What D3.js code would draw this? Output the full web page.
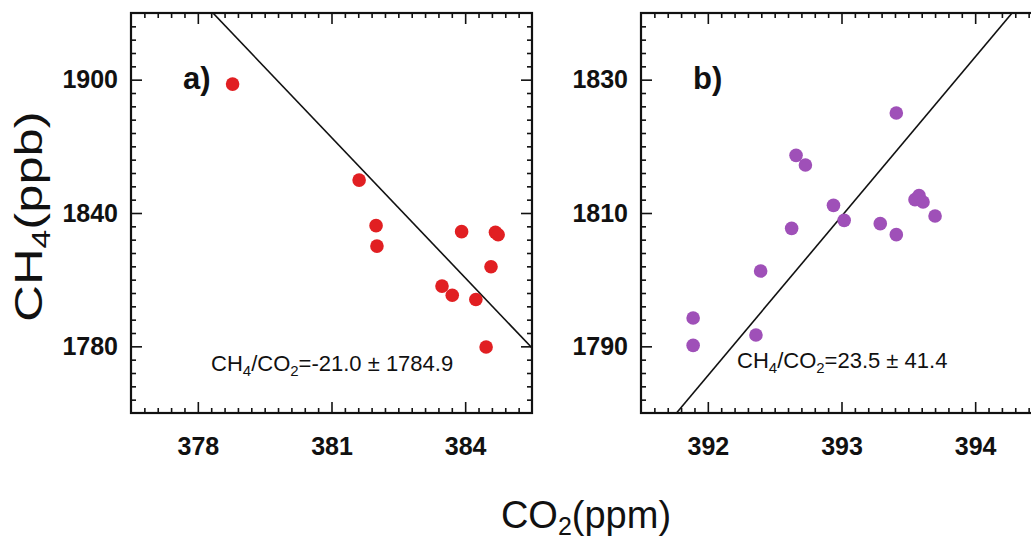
<!DOCTYPE html>
<html><head><meta charset="utf-8">
<script src="https://cdn.jsdelivr.net/npm/d3@7/dist/d3.min.js"></script>
<style>
body{margin:0;background:#fff}
svg{display:block}
text{font-family:"Liberation Sans",Arial,Helvetica,sans-serif;fill:#111}
</style>
</head><body>
<svg id="chart" width="1031" height="542"></svg>
<script>
// ---- data ----
const co2A = [378.78, 381.62, 382.00, 382.02, 383.92, 384.68, 384.74, 384.58, 383.48, 383.71, 384.24, 384.47];
const ch4A = [1898.0, 1854.8, 1834.3, 1825.1, 1831.6, 1831.3, 1830.2, 1815.8, 1807.1, 1803.0, 1801.1, 1779.7];
const co2B = [391.89, 391.89, 392.36, 392.395, 392.627, 392.66, 392.73, 392.94, 393.02, 393.29, 393.41, 393.41, 393.55, 393.58, 393.61, 393.70];
const ch4B = [1794.25, 1790.15, 1791.7, 1801.3, 1807.7, 1818.65, 1817.2, 1811.15, 1808.9, 1808.4, 1825.0, 1806.75, 1812.0, 1812.6, 1811.65, 1809.55];
const xTicksA = [378, 381, 384];
const yTicksA = [1780, 1840, 1900];
const xTicksB = [392, 393, 394];
const yTicksB = [1790, 1810, 1830];
const fitSlope = [-21.05, 23.9];
const fitIntercept = [9894.06, -7583.2];
const ratioText = ["-21.0", "23.5"];
const errText = ["1784.9", "41.4"];
const panelLabels = ["a)", "b)"];

const svg = d3.select("#chart");
svg.append("rect").attr("width",1031).attr("height",542).attr("fill","#fff");

const panels = [
  {id:"a", x:co2A, y:ch4A, xd:[376.5,385.5], yd:[1750,1930], xt:xTicksA, yt:yTicksA, xMinor:0.3, yMinor:6,
   left:131, color:"#e11f22", slope:fitSlope[0], icpt:fitIntercept[0], ratio:ratioText[0], err:errText[0],
   label:panelLabels[0], labelX:183, annX:211, annY:371},
  {id:"b", x:co2B, y:ch4B, xd:[391.5,394.5], yd:[1780,1840], xt:xTicksB, yt:yTicksB, xMinor:0.1, yMinor:2,
   left:641, color:"#9f50b8", slope:fitSlope[1], icpt:fitIntercept[1], ratio:ratioText[1], err:errText[1],
   label:panelLabels[1], labelX:693, annX:737, annY:368}
];
const plotTop = 13, W = 401, H = 400;

function minorVals(base, step, dom){
  const out=[];
  const kmin = Math.ceil((dom[0]-base)/step - 1e-9), kmax = Math.floor((dom[1]-base)/step + 1e-9);
  for(let k=kmin;k<=kmax;k++){ const v=+(base+k*step).toFixed(6); if(v>dom[0]+1e-9 && v<dom[1]-1e-9) out.push(v);} 
  return out;
}

panels.forEach(p=>{
  const g = svg.append("g").attr("transform",`translate(${p.left},${plotTop})`);
  const xs = d3.scaleLinear().domain(p.xd).range([0,W]);
  const ys = d3.scaleLinear().domain(p.yd).range([H,0]);

  const clipId = "clip-"+p.id;
  g.append("clipPath").attr("id",clipId).append("rect").attr("width",W).attr("height",H);

  // regression line
  const ext = [p.xd[0]-5, p.xd[1]+5].map(x=>[x, p.slope*x + p.icpt]);
  g.append("path").attr("clip-path",`url(#${clipId})`)
    .attr("d", d3.line().x(d=>xs(d[0])).y(d=>ys(d[1]))(ext))
    .attr("fill","none").attr("stroke","#111").attr("stroke-width",1.6);

  // points
  g.append("g").selectAll("circle").data(p.x.map((v,i)=>[v,p.y[i]])).join("circle")
    .attr("cx",d=>xs(d[0])).attr("cy",d=>ys(d[1])).attr("r",6.8).attr("fill",p.color);

  // axes
  const xMin = minorVals(p.xt[0], p.xMinor, p.xd).filter(v=>!p.xt.some(t=>Math.abs(t-v)<1e-6));
  const yMin = minorVals(p.yt[0], p.yMinor, p.yd).filter(v=>!p.yt.some(t=>Math.abs(t-v)<1e-6));

  const axStyle = sel=>{ sel.select(".domain").remove(); sel.selectAll("line").attr("stroke","#111").attr("stroke-width",1.6); };
  const lblStyle = s=>s.selectAll("text").attr("font-size",25).attr("font-weight","bold").attr("fill","#111")
      .style("font-family",'"Liberation Sans",Arial,sans-serif');

  g.append("g").attr("transform",`translate(0,${H})`)
    .call(d3.axisBottom(xs).tickValues(p.xt).tickSize(-11).tickPadding(24).tickFormat(d3.format("d")))
    .call(axStyle).call(lblStyle);
  g.append("g").attr("transform",`translate(0,${H})`)
    .call(d3.axisBottom(xs).tickValues(xMin).tickSize(-5).tickFormat("")).call(axStyle);
  g.append("g").call(d3.axisTop(xs).tickValues(p.xt).tickSize(-11).tickFormat("")).call(axStyle);
  g.append("g").call(d3.axisTop(xs).tickValues(xMin).tickSize(-5).tickFormat("")).call(axStyle);

  g.append("g")
    .call(d3.axisLeft(ys).tickValues(p.yt).tickSize(-11).tickPadding(13).tickFormat(d3.format("d")))
    .call(axStyle).call(lblStyle);
  g.append("g").call(d3.axisLeft(ys).tickValues(yMin).tickSize(-5).tickFormat("")).call(axStyle);
  g.append("g").attr("transform",`translate(${W},0)`)
    .call(d3.axisRight(ys).tickValues(p.yt).tickSize(-11).tickFormat("")).call(axStyle);
  g.append("g").attr("transform",`translate(${W},0)`)
    .call(d3.axisRight(ys).tickValues(yMin).tickSize(-5).tickFormat("")).call(axStyle);

  // frame
  g.append("rect").attr("width",W).attr("height",H).attr("fill","none").attr("stroke","#111").attr("stroke-width",2.2);

  // panel label
  svg.append("text").attr("x",p.labelX).attr("y",89).attr("font-size",31).attr("font-weight","bold").text(p.label);

  // annotation
  const t = svg.append("text").attr("x",p.annX).attr("y",p.annY).attr("font-size",22).attr("fill","#222");
  t.append("tspan").text("CH");
  t.append("tspan").attr("font-size",15).attr("dy",5).text("4");
  t.append("tspan").attr("dy",-5).text("/CO");
  t.append("tspan").attr("font-size",15).attr("dy",5).text("2");
  t.append("tspan").attr("dy",-5).text("=" + p.ratio + " \u00B1 " + p.err);
});

// axis titles
const ytl = svg.append("text").attr("transform","translate(42,216.5) rotate(-90) scale(1.3,1)").attr("text-anchor","middle").attr("font-size",39);
ytl.append("tspan").text("CH");
ytl.append("tspan").attr("font-size",26).attr("dy",8).text("4");
ytl.append("tspan").attr("dy",-8).text("(ppb)");

const xtl = svg.append("text").attr("x",586).attr("y",528).attr("text-anchor","middle").attr("font-size",38);
xtl.append("tspan").text("CO");
xtl.append("tspan").attr("font-size",25).attr("dy",7).text("2");
xtl.append("tspan").attr("dy",-7).text("(ppm)");
</script>
</body></html>
